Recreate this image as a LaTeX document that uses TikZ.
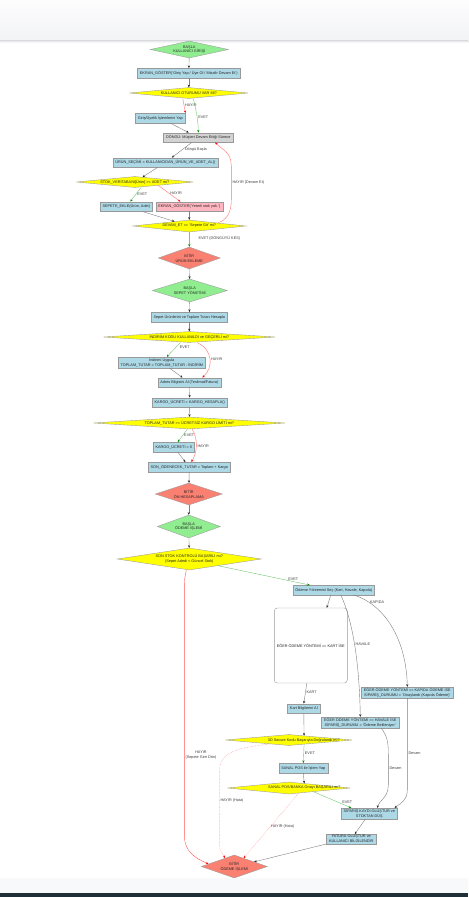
\documentclass[tikz,border=0pt]{standalone}
\usepackage{fontspec}
\setmainfont{Liberation Sans}
\usepackage{tikz}
\usetikzlibrary{shapes.geometric, arrows.meta, calc, positioning}
\definecolor{kutumavi}{HTML}{ADD8E6}
\definecolor{basyesil}{HTML}{90EE90}
\definecolor{bitirkirmizi}{HTML}{FA8072}
\definecolor{hatapembe}{HTML}{FFB6C1}
\definecolor{sorusari}{HTML}{FFFF00}
\definecolor{donguGri}{HTML}{D3D3D3}
\definecolor{bantust}{HTML}{FDFDFE}
\definecolor{bantalt}{HTML}{F2F3F5}
\definecolor{bantcizgi}{HTML}{D6D9DE}
\definecolor{altacik}{HTML}{F8F9FA}
\definecolor{altkoyu}{HTML}{1E2F38}
\newcommand{\akisfont}{\fontsize{3.8}{4.8}\selectfont}

\tikzset{
	kutu/.style={rectangle, draw=gray!80, fill=kutumavi, inner xsep=2.5pt, inner ysep=1pt, minimum height=9.5pt, align=center},
	karar/.style n args={3}{diamond, draw=gray!75, inner sep=0pt, minimum width=#1, minimum height=#2, aspect=#3, align=center},
	akis/.style={draw=black!50, line width=0.4pt, -{Stealth[length=2.6pt,width=2.2pt,color=black!85]}},
	evet/.style={draw=green!60!black!55, line width=0.4pt, -{Stealth[length=2.6pt,width=2.2pt,color=green!55!black]}},
	hayir/.style={draw=red!55, line width=0.4pt, -{Stealth[length=2.6pt,width=2.2pt,color=red]}},
	etiket/.style={text=black!75, inner sep=1pt}
}

\begin{document}
\begin{tikzpicture}[x=1pt, y=-1pt, font=\akisfont, text=black!85]
% sayfa
\fill[white] (0,0) rectangle (468,897);
\shade[top color=bantust, bottom color=bantalt] (0,0) rectangle (468,40);
\shade[top color=black!12, bottom color=white] (0,40) rectangle (468,43);
\draw[bantcizgi, line width=0.6pt] (0,40) -- (468,40);
\fill[altacik] (0,878) rectangle (468,893);
\fill[altkoyu] (0,893) rectangle (468,897);
\useasboundingbox (0,0) rectangle (468,897);

% kullanici girisi ve urun ekleme
\node[karar={78}{17}{4.6}, fill=basyesil] (start1) at (189,49.5) {BAŞLA\\KULLANICI GİRİŞİ};
\node[kutu] (ekran) at (188.5,73) {EKRAN\_GÖSTER('Giriş Yap / Üye Ol / Misafir Devam Et')};
\node[karar={119}{11}{10.8}, fill=sorusari] (oturum) at (188.5,93) {KULLANICI OTURUMU VAR MI?};
\node[kutu] (giris) at (160,118) {Giriş/Üyelik İşlemlerini Yap};
\node[kutu, fill=donguGri] (dongu) at (198,137.5) {DÖNGÜ: Müşteri Devam Ettiği Sürece};
\node[kutu] (urun) at (165,162.5) {ÜRÜN\_SEÇİMİ = KULLANICIDAN\_ÜRÜN\_VE\_ADET\_AL()};
\node[karar={117}{11}{10.6}, fill=sorusari] (stok) at (134.5,182) {STOK\_VERİTABANI[Ürün] >= ADET mi?};
\node[kutu] (sepet) at (126,206.5) {SEPETE\_EKLE(Ürün, Adet)};
\node[kutu, fill=hatapembe] (hata) at (189,206.5) {EKRAN\_GÖSTER('Yeterli stok yok.')};
\node[karar={113}{12}{9.4}, fill=sorusari] (devam) at (189,226) {DEVAM\_ET == 'Sepete Git' mi?};
\node[karar={62}{22}{2.8}, fill=bitirkirmizi] (bitir1) at (189,258) {BİTİR\\ÜRÜN EKLEME};

% sepet yonetimi
\node[karar={75}{23}{3.3}, fill=basyesil] (start2) at (189.5,290.5) {BAŞLA\\SEPET YÖNETİMİ};
\node[kutu] (hesapla) at (189,317) {Sepet Ürünlerini ve Toplam Tutarı Hesapla};
\node[karar={172}{11}{15.6}, fill=sorusari] (indirim) at (189,337) {İNDİRİM KODU KULLANILDI ve GEÇERLİ mi?};
\node[kutu] (indirimkutu) at (161.5,362.5) {İndirimi Uygula\\TOPLAM\_TUTAR = TOPLAM\_TUTAR - İNDİRİM};
\node[kutu] (adres) at (189,382.5) {Adres Bilgisini Al (Teslimat/Fatura)};
\node[kutu] (kargo) at (189.5,402.5) {KARGO\_ÜCRETİ = KARGO\_HESAPLA()};
\node[karar={192}{12}{16}, fill=sorusari] (toplam) at (189,423) {TOPLAM\_TUTAR >= ÜCRETSİZ KARGO LİMİTİ mi?};
\node[kutu] (kargosifir) at (173.5,447) {KARGO\_ÜCRETİ = 0};
\node[kutu] (son) at (189,467) {SON\_ÖDENECEK\_TUTAR = Toplam + Kargo};
\node[karar={67}{22}{3}, fill=bitirkirmizi] (bitir2) at (188.5,494) {BİTİR\\ÖN HESAPLAMA};

% odeme islemi
\node[karar={63}{23}{2.7}, fill=basyesil] (start3) at (188.5,526.5) {BAŞLA\\ÖDEME İŞLEMİ};
\node[karar={144}{22}{6.5}, fill=sorusari] (sonstok) at (189,559) {SON STOK KONTROLÜ BAŞARILI mı?\\(Sepet Adedi < Güncel Stok)};
\node[kutu] (odeme) at (333.5,590) {Ödeme Yöntemini Seç (Kart, Havale, Kapıda)};
\node[kutu, fill=white, rounded corners=3pt, minimum width=73pt, minimum height=75pt] (kartsec) at (310.5,645.5) {EĞER ÖDEME YÖNTEMİ == KART İSE};
\node[kutu] (kapida) at (407,692.5) {EĞER ÖDEME YÖNTEMİ == KAPIDA ÖDEME İSE\\SİPARİŞ\_DURUMU = 'Onaylandı (Kapıda Ödeme)'};
\node[kutu] (kart) at (303.5,708.5) {Kart Bilgilerini Al};
\node[kutu] (havale) at (360,722.5) {EĞER ÖDEME YÖNTEMİ == HAVALE İSE\\SİPARİŞ\_DURUMU = 'Ödeme Bekleniyor'};
\node[karar={127}{11}{11.5}, fill=sorusari, label={[xshift=15pt]center:3D Secure Kodu Başarıyla Doğrulandı mı?}] (dogrula) at (288.5,740) {};
\node[kutu] (sanalpos) at (303,768) {SANAL POS ile İşlem Yap};
\node[karar={123}{12}{10.3}, fill=sorusari, label={[xshift=15.5pt]center:SANAL POS/BANKA Onayı BAŞARILI mı?}] (banka) at (288.5,788) {};
\node[kutu] (siparis) at (369,813.5) {SİPARİŞ KAYDI OLUŞTUR ve\\STOKTAN DÜŞ};
\node[kutu] (fatura) at (351,839) {FATURA OLUŞTUR ve\\KULLANICI BİLGİLENDİR};
\node[karar={66}{23}{2.9}, fill=bitirkirmizi] (bitir3) at (234,866.5) {BİTİR\\ÖDEME İŞLEMİ};

% duz akislar
\foreach \a/\b in {start1/ekran, ekran/oturum, giris/dongu, urun/stok, sepet/devam, hata/devam, bitir1/start2, start2/hesapla, hesapla/indirim, indirimkutu/adres, adres/kargo, kargo/toplam, kargosifir/son, son/bitir2, bitir2/start3, start3/sonstok, siparis/fatura}
	\draw[akis] (\a) -- (\b);

\draw[hayir] ($(oturum.south)+(-6,0)$) -- node[etiket, right, pos=.45] {HAYIR} (giris.north east);
\draw[evet] ($(oturum.south)+(4.5,0)$) .. controls (196,110) and (198,122) .. (dongu.north) node[etiket, right, pos=.55] {EVET};
\draw[akis] (dongu) -- node[etiket, right=2pt, pos=.5] {Döngü Başla} (urun);
\draw[evet] ($(stok.south)+(6,0)$) -- node[etiket, right, pos=.45] {EVET} ($(sepet.north)+(4,0)$);
\draw[hayir] ($(stok.east)!0.6!(stok.south)$) -- node[etiket, right, pos=.5] {HAYIR} ($(hata.north)+(-9,0)$);
\draw[hayir] ($(devam.north)!0.5!(devam.east)$) .. controls (227,220) and (231,212) .. (231,200) -- (231,166) node[etiket, right, pos=.5] {HAYIR (Devam Et)} .. controls (231,152) and (222,150) .. ($(dongu.south east)+(-18,0)$);
\draw[evet] (devam) -- node[etiket, right=8pt, pos=.45] {EVET (DÖNGÜYÜ KES)} (bitir1);

\draw[evet] ($(indirim.south)+(-9,0)$) -- node[etiket, right=3pt, pos=.35] {EVET} ($(indirimkutu.north)+(5,0)$);
\draw[hayir] ($(indirim.south)+(8,0)$) .. controls (213,350) and (213,368) .. ($(adres.north)+(13,0)$) node[etiket, right, pos=.5] {HAYIR};
\draw[evet] ($(toplam.south)+(-2,0)$) -- node[etiket, right, pos=.45] {EVET} ($(kargosifir.north)+(4,0)$);
\draw[hayir] ($(toplam.south)+(3,0)$) .. controls (198,440) and (197,452) .. ($(son.north)+(2,0)$) node[etiket, right, pos=.5] {HAYIR};

\draw[evet] ($(sonstok.south)!0.4!(sonstok.east)$) -- node[etiket, above, pos=.82] {EVET} ($(odeme.north)+(-24,0)$);
\draw[hayir, draw=red!65] ($(sonstok.south)+(-3,0)$) .. controls (184,580) .. (184,592) -- node[etiket, right, align=center, pos=.67] {HAYIR\\(Sepete Geri Dön)} (184,835) .. controls (184,852) and (195,858) .. ($(bitir3.west)!0.22!(bitir3.north)$);
\draw[akis] ($(odeme.south)+(-3,0)$) -- ($(kartsec.north)+(16,0)$);
\draw[akis] ($(odeme.south)+(7,0)$) .. controls (352,620) and (359,660) .. (havale.north) node[etiket, right, pos=.5] {HAVALE};
\draw[akis] ($(odeme.south)+(20,0)$) .. controls (385,605) and (406,640) .. (kapida.north) node[etiket, right, pos=.17] {KAPIDA};
\draw[akis] ($(kartsec.south)+(-4,0)$) -- node[etiket, right, pos=.45] {KART} (kart.north);
\draw[akis] (kart.south) -- ($(dogrula.north)!0.24!(dogrula.east)$);
\draw[evet] ($(dogrula.south)!0.24!(dogrula.east)$) -- node[etiket, right, pos=.45] {EVET} (sanalpos.north);
\draw[hayir, densely dotted] ($(dogrula.south)!0.3!(dogrula.west)$) .. controls (236,748) and (219,752) .. (219,772) -- node[etiket, right, pos=.4] {HAYIR (Hata)} (219,843) .. controls (219,850) and (222,853) .. ($(bitir3.west)!0.72!(bitir3.north)$);
\draw[akis] (sanalpos.south) -- ($(banka.north)!0.25!(banka.east)$);
\draw[evet] ($(banka.south)!0.4!(banka.east)$) -- node[etiket, above right, pos=.75, inner sep=0.3pt] {EVET} ($(siparis.north)+(-18,0)$);
\draw[hayir, densely dotted] ($(banka.south)!0.16!(banka.east)$) -- node[etiket, right, pos=.52] {HAYIR (Hata)} ($(bitir3.north)!0.28!(bitir3.east)$);
\draw[akis] ($(havale.south east)+(-18,0)$) .. controls (388,737) and (388,745) .. (388,755) -- node[etiket, right, pos=.45] {Devam} (388,785) .. controls (388,798) and (379,800) .. ($(siparis.north)+(8,0)$);
\draw[akis] (kapida.south) -- node[etiket, right, pos=.6] {Devam} (407,790) .. controls (407,800) and (401,803) .. ($(siparis.north east)+(-3,0)$);
\draw[akis] (fatura.south west) -- ($(bitir3.north)!0.6!(bitir3.east)$);

\end{tikzpicture}
\end{document}
